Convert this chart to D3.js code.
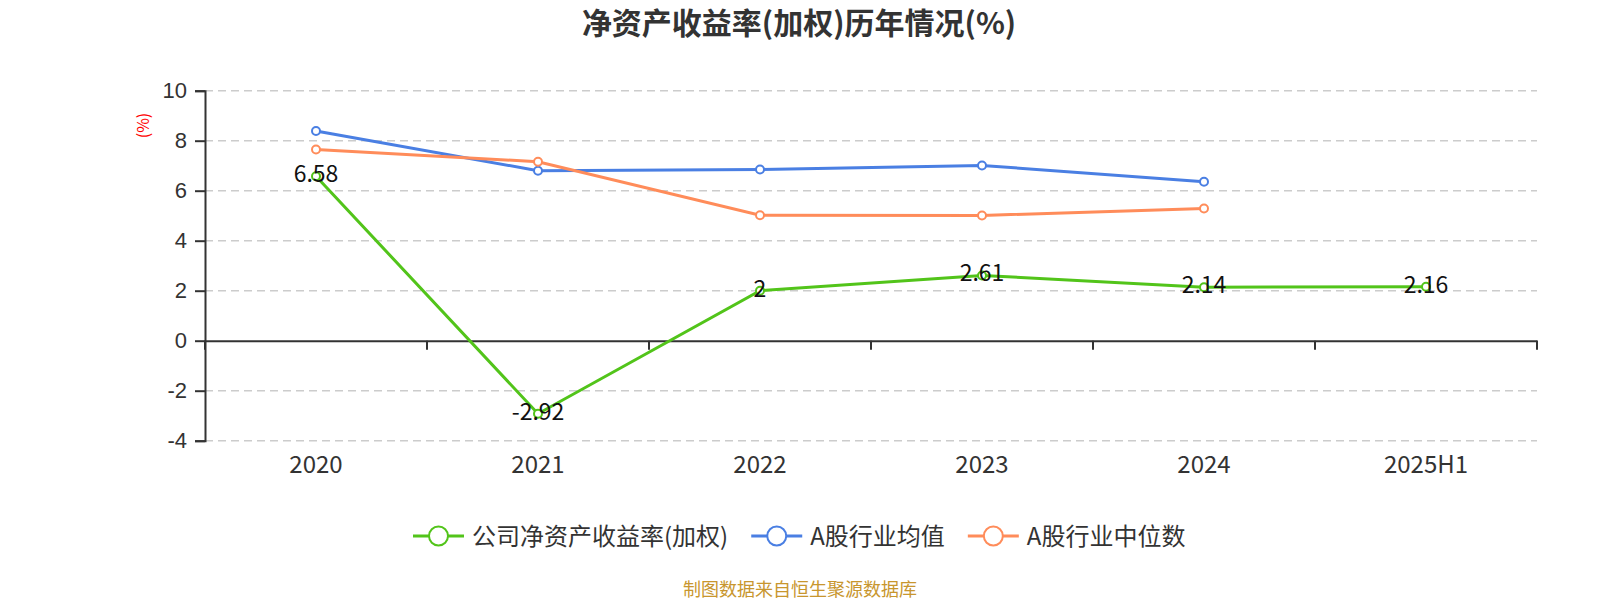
<!DOCTYPE html>
<html><head><meta charset="utf-8">
<script src="https://cdn.jsdelivr.net/npm/d3@7/dist/d3.min.js"></script>
<style>body{margin:0;background:#fff;} svg{display:block;font-family:"Noto Sans CJK SC","Noto Sans",sans-serif;}</style>
</head><body><svg id="c" width="1600" height="600"></svg>
<script>
const categories = ["2020","2021","2022","2023","2024","2025H1"];
const companyROE = [6.58, -2.92, 2.0, 2.61, 2.14, 2.16];
const industryMean = [8.39, 6.80, 6.85, 7.01, 6.36, null];
const industryMedian = [7.65, 7.16, 5.02, 5.01, 5.29, null];
const yTicks = [-4,-2,0,2,4,6,8,10];
const seriesNames = ["公司净资产收益率(加权)","A股行业均值","A股行业中位数"];
const colors = ["#52C41A","#4A7FE3","#FF8C5A"];

(function(){
const svg = d3.select("#c");
const pLeft = 205, pRight = 1537, pTop = 90.7, pBottom = 440.7;
const x = d3.scaleBand().domain(categories).range([pLeft, pRight]);
const y = d3.scaleLinear().domain([-4, 10]).range([pBottom, pTop]);
const fmt = v => String(v);

// title
svg.append("text").attr("x", 799).attr("y", 34).attr("text-anchor","middle")
  .attr("font-size", 30).attr("font-weight","bold").attr("fill","#333").text("净资产收益率(加权)历年情况(%)");

// grid
svg.append("g").selectAll("line").data(yTicks.filter(d=>d!==0)).join("line")
  .attr("x1", pLeft).attr("x2", pRight).attr("y1", d=>y(d)).attr("y2", d=>y(d))
  .attr("stroke","#ccc").attr("stroke-width",1.6).attr("stroke-dasharray","8,5");

// y axis
const ya = svg.append("g").attr("transform",`translate(${pLeft},0)`)
  .call(d3.axisLeft(y).tickValues(yTicks).tickSize(10).tickPadding(8).tickFormat(fmt));
ya.select(".domain").attr("stroke","#333").attr("stroke-width",2);
ya.selectAll(".tick line").attr("stroke","#333").attr("stroke-width",2);
ya.selectAll(".tick text").attr("font-size",22).attr("fill","#333").attr("font-family","inherit");

// x axis at zero
const xa = svg.append("g").attr("transform",`translate(0,${y(0)})`)
  .call(d3.axisBottom(x).tickSize(0).tickFormat(""));
xa.select(".domain").attr("stroke","#333").attr("stroke-width",2);
const bounds = categories.map(c=>x(c)).concat([pRight]);
svg.append("g").selectAll("line").data(bounds).join("line")
  .attr("x1",d=>d).attr("x2",d=>d).attr("y1",y(0)).attr("y2",y(0)+9)
  .attr("stroke","#333").attr("stroke-width",2);
svg.append("g").selectAll("text").data(categories).join("text")
  .attr("x", d=>x(d)+x.bandwidth()/2).attr("y", 473).attr("text-anchor","middle")
  .attr("font-size",24).attr("fill","#333").text(d=>d);

// y label
svg.append("text").attr("transform","translate(149,125.5) rotate(-90)").attr("text-anchor","middle")
  .attr("font-size",16).attr("fill","#f00").text("(%)");

const cx = d => x(d)+x.bandwidth()/2;
const allSeries = [companyROE, industryMean, industryMedian];
[1,2,0].forEach(i=>{
  const data = categories.map((c,j)=>({c, v: allSeries[i][j]})).filter(d=>d.v!==null);
  const line = d3.line().x(d=>cx(d.c)).y(d=>y(d.v));
  svg.append("path").datum(data).attr("d", line).attr("fill","none")
    .attr("stroke", colors[i]).attr("stroke-width",3);
  svg.append("g").selectAll("circle").data(data).join("circle")
    .attr("cx", d=>cx(d.c)).attr("cy", d=>y(d.v)).attr("r",4)
    .attr("fill","#fff").attr("stroke",colors[i]).attr("stroke-width",2);
});
// labels for company
svg.append("g").selectAll("text").data(categories.map((c,j)=>({c,v:companyROE[j]}))).join("text")
  .attr("x", d=>cx(d.c)).attr("y", d=>y(d.v)+6).attr("text-anchor","middle")
  .attr("font-size",23).attr("fill","#111").text(d=>fmt(d.v));

// legend
const lg = svg.append("g");
let xpos = 413;
seriesNames.forEach((n,i)=>{
  const g = lg.append("g").attr("transform",`translate(${xpos},536)`);
  g.append("line").attr("x1",0).attr("x2",51).attr("y1",0).attr("y2",0).attr("stroke",colors[i]).attr("stroke-width",3);
  g.append("circle").attr("cx",25.5).attr("cy",0).attr("r",9.5).attr("fill","#fff").attr("stroke",colors[i]).attr("stroke-width",2);
  const t = g.append("text").attr("x",59).attr("y",8.5).attr("font-size",24).attr("fill","#333").text(n);
  xpos += 59 + t.node().getComputedTextLength() + 23;
});

// source
svg.append("text").attr("x",800).attr("y",596).attr("text-anchor","middle")
  .attr("font-size",18).attr("fill","#C8962E").text("制图数据来自恒生聚源数据库");
})();
</script></body></html>
